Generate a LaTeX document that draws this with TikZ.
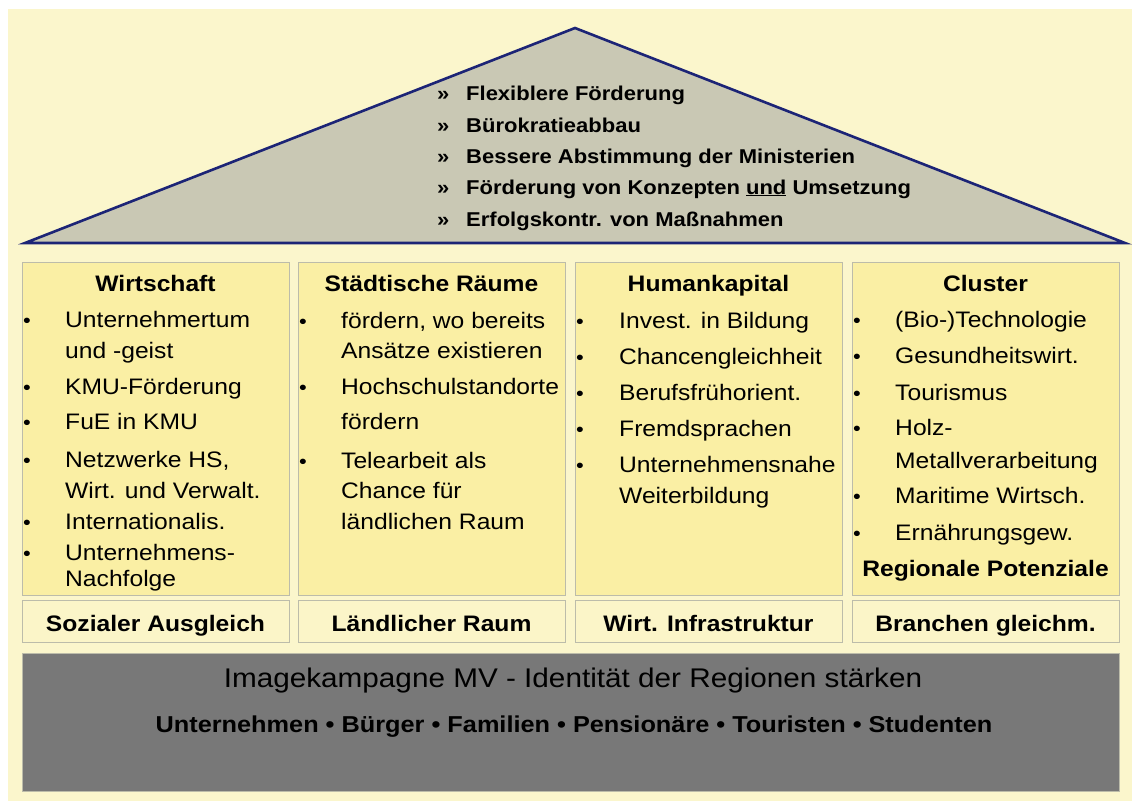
\documentclass[tikz,border=0pt]{standalone}
\usepackage{fontspec}
\setmainfont{Liberation Sans}[FakeStretch=1.1]
\usetikzlibrary{positioning}
\usepackage{xcolor}

\definecolor{bgyellow}{RGB}{251,246,204}
\definecolor{colyellow}{RGB}{250,239,164}
\definecolor{rowyellow}{RGB}{251,245,200}
\definecolor{roofgray}{RGB}{201,200,180}
\definecolor{roofline}{RGB}{28,36,118}
\definecolor{basegray}{RGB}{120,120,120}
\definecolor{boxline}{RGB}{188,188,170}

\begin{document}
\begin{tikzpicture}[x=1pt, y=-1pt,
  colbox/.style={draw=boxline, line width=0.8pt, fill=colyellow, anchor=north west,
    minimum width=267pt, minimum height=333pt, inner sep=0pt},
  rowbox/.style={draw=boxline, line width=0.8pt, fill=rowyellow, anchor=north west,
    minimum width=267pt, minimum height=42pt, inner sep=0pt},
  head/.style={anchor=base, inner sep=0pt, font=\fontsize{22.4}{27}\selectfont\bfseries},
  item/.style={anchor=base west, inner sep=0pt, font=\fontsize{22.4}{27}\selectfont},
  dot/.style={anchor=base, inner sep=0pt, font=\fontsize{20}{24}\selectfont},
  roofitem/.style={anchor=base west, inner sep=0pt, font=\fontsize{20}{24}\selectfont\bfseries}]

  \useasboundingbox (0,0) rectangle (1132,801);
  \fill[white] (0,0) rectangle (1132,801);
  \fill[bgyellow] (8,9) rectangle (1132,801);

  % Roof
  \coordinate (apex) at (575,28);
  \coordinate (eaveL) at (25,243);
  \coordinate (eaveR) at (1125,243);
  \draw[roofline, line width=2.6pt, fill=roofgray] (apex) -- (eaveL) -- (eaveR) -- cycle;

  \foreach \y/\t [count=\i] in {100/Flexiblere Förderung, 132/Bürokratieabbau,
      163/Bessere Abstimmung der Ministerien,
      194/Förderung von Konzepten \underline{und} Umsetzung,
      226/Erfolgskontr. von Maßnahmen} {
    \node[roofitem] (q\i) at (437,\y) {»};
    \node[roofitem] (r\i) at (466,\y) {\t};
  }

  % Pillars
  \node[colbox] (wirt) at (22,262) {};
  \node[colbox] (stadt) at (298,262) {};
  \node[colbox] (human) at (575,262) {};
  \node[colbox] (cluster) at (852,262) {};

  \node[rowbox] (sozial) at (22,600) {};
  \node[rowbox] (land) at (298,600) {};
  \node[rowbox] (infra) at (575,600) {};
  \node[rowbox] (branch) at (852,600) {};

  % Pillar titles
  \node[head] (wirtT) at (155.5,291) {Wirtschaft};
  \node[head] (stadtT) at (431.5,291) {Städtische Räume};
  \node[head] (humanT) at (708.5,291) {Humankapital};
  \node[head] (clusterT) at (985.5,291) {Cluster};

  % Wirtschaft
  \foreach \y in {327,394,429,467,529,560} \node[dot] at (27,\y) {•};
  \node[item] (w1) at (65,327) {Unternehmertum};
  \node[item] (w1b) at (65,358) {und -geist};
  \node[item] (w2) at (65,394) {KMU-Förderung};
  \node[item] (w3) at (65,429) {FuE in KMU};
  \node[item] (w4) at (65,467) {Netzwerke HS,};
  \node[item] (w4b) at (65,498) {Wirt. und Verwalt.};
  \node[item] (w5) at (65,529) {Internationalis.};
  \node[item] (w6) at (65,560) {Unternehmens-};
  \node[item] (w6b) at (65,586) {Nachfolge};

  % Staedtische Raeume
  \foreach \y in {328,394,468} \node[dot] at (303,\y) {•};
  \node[item] (s1) at (341,328) {fördern, wo bereits};
  \node[item] (s1b) at (341,358) {Ansätze existieren};
  \node[item] (s2) at (341,394) {Hochschulstandorte};
  \node[item] (s2b) at (341,429) {fördern};
  \node[item] (s3) at (341,468) {Telearbeit als};
  \node[item] (s3b) at (341,498) {Chance für};
  \node[item] (s3c) at (341,529) {ländlichen Raum};

  % Humankapital
  \foreach \y in {328,364,400,436,472} \node[dot] at (580,\y) {•};
  \node[item] (h1) at (619,328) {Invest. in Bildung};
  \node[item] (h2) at (619,364) {Chancengleichheit};
  \node[item] (h3) at (619,400) {Berufsfrühorient.};
  \node[item] (h4) at (619,436) {Fremdsprachen};
  \node[item] (h5) at (619,472) {Unternehmensnahe};
  \node[item] (h5b) at (619,503) {Weiterbildung};

  % Cluster
  \foreach \y in {327,363,400,435,503,540} \node[dot] at (857,\y) {•};
  \node[item] (c1) at (895,327) {(Bio-)Technologie};
  \node[item] (c2) at (895,363) {Gesundheitswirt.};
  \node[item] (c3) at (895,400) {Tourismus};
  \node[item] (c4) at (895,435) {Holz-};
  \node[item] (c4b) at (895,468) {Metallverarbeitung};
  \node[item] (c5) at (895,503) {Maritime Wirtsch.};
  \node[item] (c6) at (895,540) {Ernährungsgew.};
  \node[head] (regio) at (985.5,576) {Regionale Potenziale};

  % Row labels
  \node[head] at (155.5,631) {Sozialer Ausgleich};
  \node[head] at (431.5,631) {Ländlicher Raum};
  \node[head] at (708.5,631) {Wirt. Infrastruktur};
  \node[head] at (985.5,631) {Branchen gleichm.};

  % Foundation
  \node[draw=boxline, line width=0.8pt, fill=basegray, anchor=north west,
    minimum width=1097pt, minimum height=138pt, inner sep=0pt] (image) at (22,653) {};
  \node[anchor=base, inner sep=0pt, font=\fontsize{27}{32}\selectfont] (imageT)
    at (573,687) {Imagekampagne MV - Identität der Regionen stärken};
  \node[anchor=base, inner sep=0pt, font=\fontsize{23}{28}\selectfont\bfseries] (groups)
    at (574,732) {Unternehmen • Bürger • Familien • Pensionäre • Touristen • Studenten};
\end{tikzpicture}
\end{document}
